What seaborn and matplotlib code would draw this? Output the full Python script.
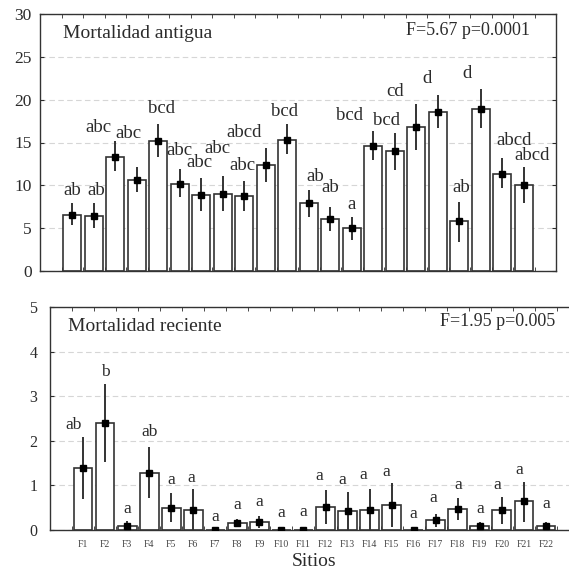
import numpy as np
import pandas as pd
import matplotlib
matplotlib.use("Agg")
import matplotlib.pyplot as plt
import seaborn as sns

sitios = ["F%d" % i for i in range(1, 23)]

# Mortalidad antigua (media, limites de la barra de error, letras)
antigua = [6.5, 6.4, 13.35, 10.6, 15.2, 10.2, 8.9, 9.0, 8.75, 12.4, 15.35,
           7.9, 6.05, 5.0, 14.6, 14.0, 16.85, 18.55, 5.8, 18.95, 11.35, 10.0]
antigua_lo = [5.35, 5.05, 11.7, 9.2, 13.35, 8.6, 7.05, 7.05, 7.05, 10.4, 13.6,
              6.35, 4.7, 3.6, 12.95, 11.8, 14.15, 16.7, 3.4, 16.75, 9.65, 7.9]
antigua_hi = [7.9, 7.9, 15.2, 12.1, 17.15, 11.85, 10.9, 11.1, 10.5, 14.4, 17.15,
              9.45, 7.45, 6.3, 16.4, 16.15, 19.45, 20.6, 8.1, 21.3, 13.15, 12.15]
antigua_let = ["ab", "ab", "abc", "abc", "bcd", "abc", "abc", "abc", "abc", "abcd", "bcd",
               "ab", "ab", "a", "bcd", "bcd", "cd", "d", "ab", "d", "abcd", "abcd"]

# Mortalidad reciente
reciente = [1.38, 2.41, 0.1, 1.28, 0.5, 0.45, 0.01, 0.15, 0.19, 0.01, 0.01,
            0.52, 0.43, 0.45, 0.56, 0.01, 0.22, 0.46, 0.09, 0.45, 0.65, 0.09]
reciente_lo = [0.7, 1.53, 0.0, 0.71, 0.17, 0.0, 0.0, 0.07, 0.05, 0.0, 0.0,
               0.13, 0.0, 0.0, 0.07, 0.0, 0.07, 0.22, 0.0, 0.13, 0.17, 0.0]
reciente_hi = [2.08, 3.27, 0.2, 1.87, 0.84, 0.92, 0.01, 0.24, 0.32, 0.01, 0.01,
               0.9, 0.86, 0.93, 1.05, 0.01, 0.35, 0.71, 0.17, 0.73, 1.07, 0.18]
reciente_let = ["ab", "b", "a", "ab", "a", "a", "a", "a", "a", "a", "a",
                "a", "a", "a", "a", "a", "a", "a", "a", "a", "a", "a"]

# desplazamiento de las letras respecto de la barra (x en anchos de categoria, y en unidades)
ant_dx = [0, 0.1, -0.8, -0.37, 0.14, 0, -0.1, -0.23, -0.1, -1.0, -0.14,
          0.28, 0, 0, -1.1, -0.37, -1.0, -0.5, 0.1, -0.65, 0.56, 0.37]
ant_dy = [1.5, 1.5, 1.6, 3.9, 1.85, 2.2, 1.8, 3.15, 1.8, 1.8, 1.5,
          1.6, 2.3, 1.5, 1.8, 1.45, 1.45, 1.9, 1.6, 1.8, 2.1, 1.3]
rec_dx = [-0.43, 0, 0, 0, 0, -0.1, 0, 0, 0, 0, 0,
          -0.27, -0.23, -0.3, -0.23, 0, -0.1, 0, 0, -0.23, -0.23, 0]
rec_dy = [0.27, 0.28, 0.26, 0.33, 0.28, 0.24, 0.29, 0.32, 0.3, 0.38, 0.39,
          0.32, 0.26, 0.3, 0.26, 0.35, 0.36, 0.3, 0.3, 0.27, 0.28, 0.4]

sns.set_style("white")
plt.rcParams['font.family'] = ['Liberation Serif', 'DejaVu Serif']

ink = '#2b2b2b'


def panel(ax, vals, lo, hi, letras, dx, dy, ymax, ystep, titulo, stats, let_size, tick_size, tick_pad):
    df = pd.DataFrame({'sitio': sitios, 'valor': vals})
    sns.barplot(data=df, x='sitio', y='valor', color='white', edgecolor='#333333',
                linewidth=1.2, width=0.85, errorbar=None, ax=ax, zorder=2)
    for p in ax.patches:
        p.set_facecolor('white')
    x = np.arange(len(vals))
    v = np.array(vals)
    err = [v - np.array(lo), np.array(hi) - v]
    ax.errorbar(x, v, yerr=err, fmt='s', ms=4.5, color='black', ecolor='#333333',
                elinewidth=1.4, capsize=0, zorder=4)
    for i, t in enumerate(letras):
        ax.text(i + dx[i], hi[i] + dy[i], t, ha='center', va='center',
                fontsize=let_size, color=ink, zorder=5)

    ax.set_xlim(-1.5, 22.5)
    ax.set_ylim(0, ymax)
    ax.set_yticks(np.arange(0, ymax + 0.01, ystep))
    ax.set_xticks(np.arange(-0.5, 22, 1), minor=True)
    ax.yaxis.grid(True, linestyle=(0, (5, 3)), color='#d6d6d6', linewidth=0.8)
    ax.set_axisbelow(True)
    ax.tick_params(axis='y', which='major', direction='in', length=3, left=True, right=True,
                   labelsize=tick_size, pad=tick_pad, colors=ink, labelcolor=ink)
    ax.tick_params(axis='x', which='minor', direction='in', length=3, top=True, bottom=True,
                   color=ink)
    for s in ax.spines.values():
        s.set_color('#333333')
        s.set_linewidth(1.0)
    ax.set_ylabel('')
    ax.text(titulo[1], titulo[2], titulo[0], transform=ax.transAxes, ha='left', va='center',
            fontsize=14, color=ink)
    ax.text(stats[1], stats[2], stats[0], transform=ax.transAxes, ha='right', va='center',
            fontsize=13, color=ink)


fig = plt.figure(figsize=(5.69, 5.73), dpi=100)
ax1 = fig.add_axes([40 / 569, (573 - 271) / 573, 516 / 569, 257 / 573])
ax2 = fig.add_axes([50 / 569, (573 - 530) / 573, 529 / 569, 223 / 573])

panel(ax1, antigua, antigua_lo, antigua_hi, antigua_let, ant_dx, ant_dy, 30, 5,
      ("Mortalidad antigua", 0.045, 0.926), ("F=5.67 p=0.0001", 0.95, 0.936), 13.5, 12.5, 6)
ax1.tick_params(axis='x', which='major', bottom=False, labelbottom=False)
ax1.set_xlabel('')

panel(ax2, reciente, reciente_lo, reciente_hi, reciente_let, rec_dx, rec_dy, 5, 1,
      ("Mortalidad reciente", 0.034, 0.912), ("F=1.95 p=0.005", 0.955, 0.934), 12.5, 11.5, 9)
ax2.tick_params(axis='x', which='major', length=0, labelsize=7, pad=7, labelcolor='#444444')
ax2.set_xlabel('Sitios', fontsize=14, color=ink, labelpad=3)

fig.savefig('out.png', dpi=100)
